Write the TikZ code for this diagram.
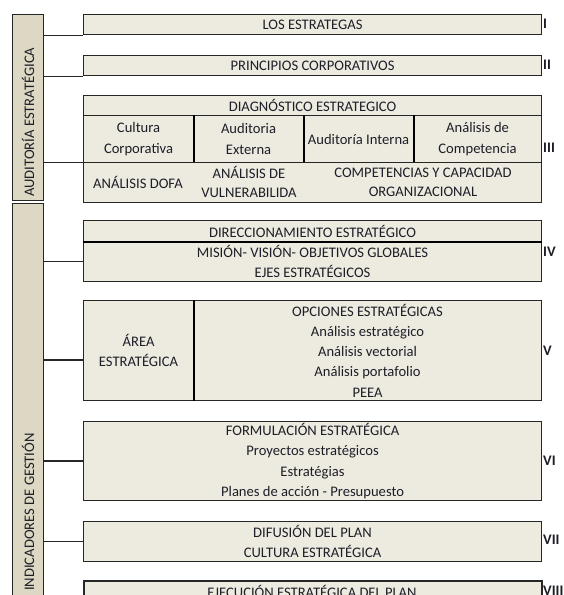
\documentclass[tikz,border=0pt]{standalone}
\usepackage{fontspec}
\setmainfont{Carlito}
\newcommand\dtxt{\fontsize{14.6}{20.3}\selectfont}
\definecolor{boxfill}{HTML}{EDEBE0}
\definecolor{barfill}{HTML}{DDD8C3}
\definecolor{edge}{HTML}{262626}
\definecolor{ink}{HTML}{1E1E28}
\begin{document}
\begin{tikzpicture}[x=1pt,y=1pt,
  box/.style={draw=edge, line width=1.1pt, fill=boxfill, inner sep=0pt, anchor=north west, font=\dtxt, align=center, text=ink},
  bar/.style={draw=edge, line width=1.2pt, fill=barfill, inner sep=0pt, anchor=north west},
  lbl/.style={font=\dtxt, align=center, text=ink, inner sep=0pt},
  num/.style={font=\dtxt\bfseries, anchor=west, text=ink, inner sep=0pt},
  conn/.style={draw=edge, line width=0.9pt},
  connb/.style={draw=edge, line width=1.6pt},
  divider/.style={draw=black, line width=2pt}]
\useasboundingbox (0,0) rectangle (563,-595);
\clip (0,0) rectangle (563,-595);

% side bars
\node[bar, minimum width=31, minimum height=186] (bar1) at (12,-14) {};
\node[bar, minimum width=31, minimum height=420] (bar2) at (12,-203) {};
\node[lbl, rotate=90, anchor=west] (t1) at (28,-197) {AUDITORÍA ESTRATÉGICA};
\node[lbl, rotate=90, anchor=east] (t2) at (28,-433) {INDICADORES DE GESTIÓN};

% I, II
\node[box, minimum width=458, minimum height=20] (b1) at (83,-14) {LOS ESTRATEGAS};
\node[box, minimum width=458, minimum height=20] (b2) at (83,-55) {PRINCIPIOS CORPORATIVOS};

% III
\node[box, minimum width=458, minimum height=20] (b3h) at (83,-95) {DIAGNÓSTICO ESTRATEGICO};
\node[box, minimum width=110, minimum height=47] (b3c1) at (83,-115) {Cultura\\Corporativa};
\node[box, minimum width=110, minimum height=47] (b3c2) at (193,-115) {Auditoria\\Externa};
\node[box, minimum width=110, minimum height=47] (b3c3) at (303,-115) {Auditoría Interna};
\node[box, minimum width=128, minimum height=47] (b3c4) at (413,-115) {Análisis de\\Competencia};
\draw[divider] (b3c1.north east) -- (b3c1.south east);
\draw[divider] (b3c2.north east) -- (b3c2.south east);
\draw[divider] (b3c3.north east) -- (b3c3.south east);
\node[box, minimum width=458, minimum height=40] (b3low) at (83,-162) {};
\node[lbl] (b3d1) at (138,-182) {ANÁLISIS DOFA};
\node[lbl] (b3d2) at (249,-182) {ANÁLISIS DE\\[-1.3pt]VULNERABILIDA};
\node[lbl] (b3d3) at (423,-182) {COMPETENCIAS Y CAPACIDAD\\[-1.3pt]ORGANIZACIONAL};

% IV
\node[box, minimum width=458, minimum height=21] (b4h) at (83,-220) {DIRECCIONAMIENTO ESTRATÉGICO};
\node[box, minimum width=458, minimum height=40] (b4) at (83,-241) {MISIÓN- VISIÓN- OBJETIVOS GLOBALES\\EJES ESTRATÉGICOS};
\draw[draw=black, line width=1.6pt] (b4h.south west) -- (b4h.south east);

% V
\node[box, minimum width=458, minimum height=100] (b5) at (83,-300) {};
\node[box, minimum width=110, minimum height=100] (b5l) at (83,-300) {ÁREA\\ESTRATÉGICA};
\node[box, minimum width=348, minimum height=100] (b5r) at (193,-300) {OPCIONES ESTRATÉGICAS\\Análisis estratégico\\Análisis vectorial\\Análisis portafolio\\PEEA};
\draw[divider] (b5l.north east) -- (b5l.south east);

% VI
\node[box, minimum width=458, minimum height=79] (b6) at (83,-421) {FORMULACIÓN ESTRATÉGICA\\Proyectos estratégicos\\Estratégias\\Planes de acción - Presupuesto};

% VII
\node[box, minimum width=458, minimum height=40] (b7) at (83,-521) {DIFUSIÓN DEL PLAN\\CULTURA ESTRATÉGICA};

% VIII
\node[box, minimum width=458, minimum height=40, line width=1.5pt] (b8) at (83,-580) {};
\node[lbl] (b8t) at (312,-591) {EJECUCIÓN ESTRATÉGICA DEL PLAN};

% roman numerals
\node[num] (n1) at (543,-24) {I};
\node[num] (n2) at (543,-65) {II};
\node[num] (n3) at (543,-148) {III};
\node[num] (n4) at (543,-252) {IV};
\node[num] (n5) at (543,-351) {V};
\node[num] (n6) at (543,-461) {VI};
\node[num] (n7) at (543,-540) {VII};
\node[num] (n8) at (543,-591) {VIII};

% connectors
\coordinate (c5) at (83,-360);
\draw[conn] (bar1.east |- b1.south west) -- (b1.south west);
\draw[conn] (bar1.east |- b2.south west) -- (b2.south west);
\draw[conn] (bar1.east |- b3low.north west) -- (b3low.north west);
\draw[conn] (bar2.east |- b4.west) -- (b4.west);
\draw[connb] (bar2.east |- c5) -- (c5);
\draw[connb] (bar2.east |- b6.west) -- (b6.west);
\draw[conn] (bar2.east |- b7.west) -- (b7.west);
\end{tikzpicture}
\end{document}
